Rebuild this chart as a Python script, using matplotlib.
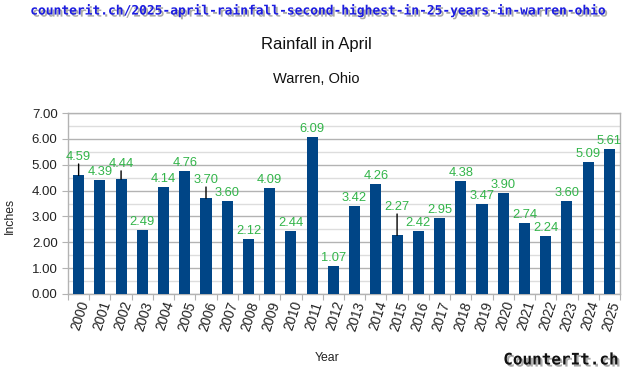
import matplotlib
matplotlib.use("Agg")
import matplotlib.pyplot as plt
import matplotlib.patheffects as pe
from matplotlib.ticker import MultipleLocator

years = [str(y) for y in range(2000, 2026)]
rainfall = [4.59, 4.39, 4.44, 2.49, 4.14, 4.76, 3.70, 3.60, 2.12, 4.09, 2.44, 6.09, 1.07,
            3.42, 4.26, 2.27, 2.42, 2.95, 4.38, 3.47, 3.90, 2.74, 2.24, 3.60, 5.09, 5.61]

# label offsets (pixels above bar top); leader lines where labels are lifted
label_lift = {"2000": 15, "2002": 12, "2006": 15, "2015": 25}

plt.rcParams['font.family'] = ['Liberation Sans', 'DejaVu Sans']

fig = plt.figure(figsize=(6.37, 3.85), dpi=100)
ax = fig.add_axes([68/637, 1-294/385, (620-68)/637, (294-113)/385])

bar_color = '#004586'
label_color = '#33b54a'
x = list(range(len(years)))
ax.bar(x, rainfall, width=0.52, color=bar_color, zorder=3)

for i, (yr, v) in enumerate(zip(years, rainfall)):
    lift = label_lift.get(yr)
    if lift:
        ax.annotate(f"{v:.2f}", xy=(i, v), xytext=(0, lift), textcoords='offset pixels',
                    ha='center', va='baseline', fontsize=9.3, color=label_color, zorder=5,
                    arrowprops=dict(arrowstyle='-', color='black', lw=1, relpos=(0.5, 0.0),
                                    patchA=None, shrinkA=0.5, shrinkB=0))
    else:
        ax.annotate(f"{v:.2f}", xy=(i, v), xytext=(0, 5), textcoords='offset pixels',
                    ha='center', va='baseline', fontsize=9.3, color=label_color, zorder=5)

ax.set_xlim(-0.5, len(years) - 0.5)
ax.set_ylim(0, 7)
ax.yaxis.set_major_locator(MultipleLocator(1))
ax.yaxis.set_minor_locator(MultipleLocator(0.5))
ax.set_yticklabels([f"{t:.2f}" for t in ax.get_yticks()])
ax.grid(axis='y', which='major', color='#b3b3b3', lw=1, zorder=0)
ax.grid(axis='y', which='minor', color='#dddddd', lw=1, zorder=0)
ax.tick_params(axis='y', which='minor', length=0)
ax.tick_params(axis='y', which='major', length=4, color='#b3b3b3', labelsize=9.5, labelcolor='#222222')

# category labels at bar centers, ticks at boundaries
ax.set_xticks([i - 0.5 for i in range(len(years) + 1)])
ax.set_xticklabels([])
ax.tick_params(axis='x', which='major', length=4, color='#b3b3b3')
ax.set_xticks(x, minor=True)
ax.set_xticklabels(years, minor=True, rotation=72, ha='right', va='top',
                   rotation_mode='anchor', fontsize=9.8, color='#222222')
ax.tick_params(axis='x', which='minor', length=0, pad=4)

for s in ax.spines.values():
    s.set_color('#b3b3b3')
    s.set_linewidth(1)

ax.set_ylabel("Inches", fontsize=8.8, color='#222222')
ax.yaxis.set_label_coords(-52/552, 0.43)
ax.set_xlabel("Year", fontsize=8.8, color='#222222')
ax.xaxis.set_label_coords((327-68)/552, -58/181)

fig.text(316/637, 1-45/385, "Rainfall in April", ha='center', va='center', fontsize=12, color='#111111')
fig.text(316/637, 1-79/385, "Warren, Ohio", ha='center', va='center', fontsize=10.5, color='#111111')

shadow = [pe.SimplePatchShadow(offset=(1.5, -1.5), shadow_rgbFace='#555555', alpha=0.5), pe.Normal()]
fig.text(317/637, 1-11/385, "counterit.ch/2025-april-rainfall-second-highest-in-25-years-in-warren-ohio",
         ha='center', va='center', fontsize=9.3, fontweight='bold', family='DejaVu Sans Mono',
         color='#1c1ce0', path_effects=shadow)
fig.text(561/637, 1-360/385, "CounterIt.ch", ha='center', va='center', fontsize=11.5,
         fontweight='bold', family='DejaVu Sans Mono', color='#111111', path_effects=shadow)

fig.savefig("out.png", dpi=100)
